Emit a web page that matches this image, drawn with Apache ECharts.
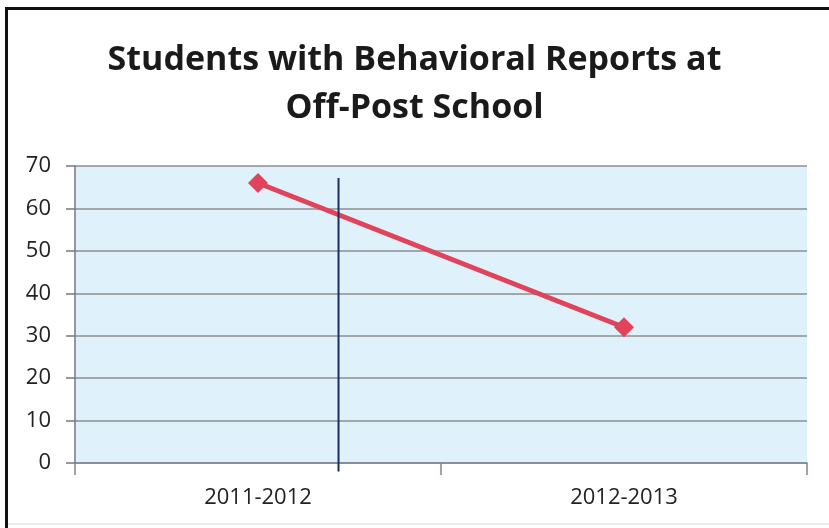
<!DOCTYPE html>
<html><head><meta charset="utf-8">
<script src="https://cdn.jsdelivr.net/npm/echarts@6/dist/echarts.min.js"></script>
<style>html,body{margin:0;padding:0;background:#fff}#c{width:829px;height:528px}</style>
</head><body><div id="c"></div>
<script>
const titleLines = ['Students with Behavioral Reports at', 'Off-Post School'];
const categories = ['2011-2012', '2012-2013'];
const reports = [66, 32];
const dividerPos = 0.72;      // position of the vertical divider on a 0..2 category scale
const dividerRange = [67.2, -2];

const chart = echarts.init(document.getElementById('c'));
chart.setOption({
  animation: false,
  backgroundColor: '#fff',
  title: {
    text: titleLines.join('\n'),
    left: 'center', top: 31,
    textStyle: { fontFamily: 'Open Sans', fontWeight: 'bold', fontSize: 34, lineHeight: 48, color: '#1a1a1a' }
  },
  grid: { left: 75, right: 22, top: 166, bottom: 65, show: true, backgroundColor: '#dff1fa', borderWidth: 0 },
  xAxis: [{
    type: 'category', data: categories, boundaryGap: true,
    axisLine: { lineStyle: { color: '#7d8796', width: 1.5 } },
    axisTick: { show: true, length: 12, lineStyle: { color: '#7d8796', width: 1.5 } },
    axisLabel: { fontFamily: 'Open Sans', fontSize: 22, color: '#222', margin: 24 }
  }, {
    type: 'value', min: 0, max: 2, show: false
  }],
  yAxis: {
    type: 'value', min: 0, max: 70, interval: 10,
    axisLine: { show: true, lineStyle: { color: '#6f7a88', width: 1.5 } },
    axisTick: { show: true, length: 9, lineStyle: { color: '#6f7a88', width: 1.5 } },
    axisLabel: { fontFamily: 'Open Sans', fontSize: 22, color: '#222', margin: 24 },
    splitLine: { lineStyle: { color: '#8c8e90', width: 1.5 } }
  },
  series: [{
    type: 'line', data: reports, z: 3,
    symbol: 'diamond', symbolSize: 20,
    lineStyle: { color: '#e0435a', width: 5 },
    itemStyle: { color: '#e0435a' }
  }, {
    type: 'custom', xAxisIndex: 1, z: 4,
    data: [[dividerPos, dividerRange[0], dividerRange[1]]],
    renderItem: function (params, api) {
      const p1 = api.coord([api.value(0), api.value(1)]);
      const p2 = api.coord([api.value(0), api.value(2)]);
      return { type: 'line', shape: { x1: p1[0], y1: p1[1], x2: p2[0], y2: p2[1] },
               style: { stroke: '#1c2f63', lineWidth: 2 } };
    }
  }],
  graphic: [{
    type: 'polyline', silent: true,
    shape: { points: [[6.5, 528], [6.5, 8.5], [829, 8.5]] },
    style: { stroke: '#111', lineWidth: 3, fill: null }
  }, {
    type: 'line', silent: true,
    shape: { x1: 8, y1: 524, x2: 829, y2: 524 },
    style: { stroke: '#d8d8d8', lineWidth: 1 }
  }]
});
</script></body></html>
